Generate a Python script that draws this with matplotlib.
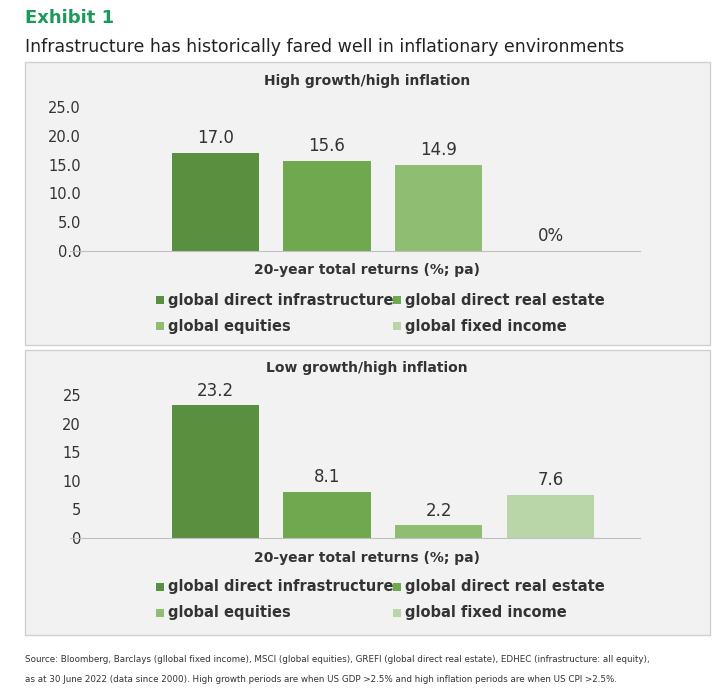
import matplotlib.pyplot as plt
from matplotlib.patches import Rectangle

series = ['global direct infrastructure', 'global direct real estate',
          'global equities', 'global fixed income']
colors = ['#5a8f3f', '#6fa84f', '#8fbd72', '#b9d6a9']
high_growth = [17.0, 15.6, 14.9, 0.0]
low_growth = [23.2, 8.1, 2.2, 7.6]
top_ticks = [0, 5, 10, 15, 20, 25]
bot_ticks = [0, 5, 10, 15, 20, 25]

W, H = 725, 696
fig = plt.figure(figsize=(W / 100, H / 100), dpi=100)
plt.rcParams['font.family'] = ['DejaVu Sans']

def px(x0, y0, x1, y1):
    return [x0 / W, 1 - y1 / H, (x1 - x0) / W, (y1 - y0) / H]

fig.text(25 / W, 1 - 18 / H, 'Exhibit 1', color='#1a9a5a', fontsize=13,
         fontweight='bold', va='center')
fig.text(25 / W, 1 - 47 / H,
         'Infrastructure has historically fared well in inflationary environments',
         fontsize=12.5, va='center', color='#222222')

for y0, y1 in [(62, 345), (350, 635)]:
    fig.patches.append(Rectangle((25 / W, 1 - y1 / H), 685 / W, (y1 - y0) / H,
                                 transform=fig.transFigure, facecolor='#f2f2f2',
                                 edgecolor='#d0d0d0', lw=1, zorder=-5))

def panel(top, bottom, vals, ticks, fmt, title, title_y, label_y, leg_y, zero_label):
    ax = fig.add_axes(px(70, top, 640, bottom))
    ax.set_zorder(2)
    ax.set_facecolor('none')
    bars = ax.bar(range(4), vals, width=0.78, color=colors)
    ax.set_ylim(0, 25)
    ax.set_xlim(-1.3, 3.8)
    ax.set_yticks(ticks)
    ax.set_yticklabels([fmt.format(t) for t in ticks], fontsize=10.5, color='#333333')
    ax.set_xticks([])
    for s in ['top', 'right', 'left']:
        ax.spines[s].set_visible(False)
    ax.spines['bottom'].set_color('#bfbfbf')
    ax.tick_params(axis='y', length=0, pad=-8)
    for b, v in zip(bars, vals):
        txt = '0%' if (v == 0 and zero_label) else f'{v:.1f}'
        ax.text(b.get_x() + b.get_width() / 2, v + 1, txt, ha='center',
                va='bottom', fontsize=12, color='#333333')
    fig.text(367 / W, 1 - title_y / H, title, ha='center', va='center',
             fontsize=10, color='#333333', fontweight='bold')
    fig.text(367 / W, 1 - label_y / H, '20-year total returns (%; pa)', ha='center',
             va='center', fontsize=10, color='#333333', fontweight='bold')
    pos = [(168, leg_y), (405, leg_y), (168, leg_y + 26), (405, leg_y + 26)]
    for (x, y), name, c in zip(pos, series, colors):
        fig.patches.append(Rectangle(((x - 12) / W, 1 - (y + 4) / H), 8 / W, 8 / H,
                                     transform=fig.transFigure, facecolor=c))
        fig.text(x / W, 1 - y / H, name, va='center', fontsize=10.5,
                 color='#333333', fontweight='bold')

panel(107, 251, high_growth, top_ticks, '{:.1f}', 'High growth/high inflation',
      81, 270, 300, True)
panel(395, 538, low_growth, bot_ticks, '{:d}', 'Low growth/high inflation',
      368, 558, 587, False)

fig.text(25 / W, 1 - 660 / H,
         'Source: Bloomberg, Barclays (gllobal fixed income), MSCI (global equities), GREFI (global direct real estate), EDHEC (infrastructure: all equity),',
         fontsize=6.3, va='center', color='#333333')
fig.text(25 / W, 1 - 680 / H,
         'as at 30 June 2022 (data since 2000). High growth periods are when US GDP >2.5% and high inflation periods are when US CPI >2.5%.',
         fontsize=6.3, va='center', color='#333333')

fig.savefig('out.png', dpi=100)
